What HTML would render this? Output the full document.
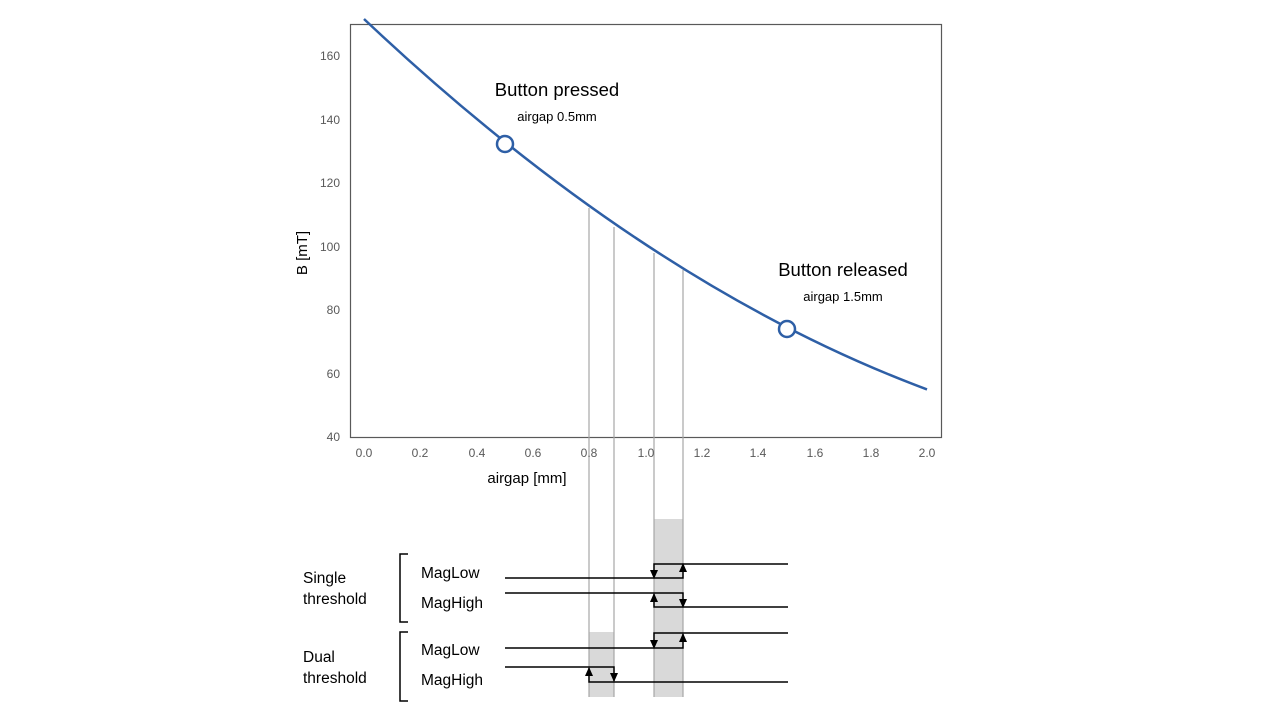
<!DOCTYPE html>
<html><head><meta charset="utf-8"><style>
html,body{margin:0;padding:0;background:#fff;}
svg{display:block;}
</style></head><body>
<svg width="1280" height="721" viewBox="0 0 1280 721" xmlns="http://www.w3.org/2000/svg">
<!-- gray bands -->
<rect x="654" y="519" width="29" height="178" fill="#d9d9d9"/>
<rect x="589" y="632" width="25" height="65" fill="#d9d9d9"/>
<!-- frame -->
<rect x="350.5" y="24.5" width="591" height="413" fill="none" stroke="#595959" stroke-width="1.2"/>
<!-- vertical guide lines -->
<g stroke="#a6a6a6" stroke-width="1.2">
<line x1="589" y1="208" x2="589" y2="697"/>
<line x1="614" y1="227" x2="614" y2="697"/>
<line x1="654" y1="253" x2="654" y2="697"/>
<line x1="683" y1="270" x2="683" y2="697"/>
</g>
<!-- y ticks -->
<g font-family="Liberation Sans, sans-serif" font-size="12" fill="#595959" text-anchor="end">
<text x="340" y="60">160</text><text x="340" y="124">140</text><text x="340" y="187">120</text>
<text x="340" y="251">100</text><text x="340" y="314">80</text><text x="340" y="378">60</text><text x="340" y="441">40</text>
</g>
<g font-family="Liberation Sans, sans-serif" font-size="12" fill="#595959" text-anchor="middle">
<text x="364" y="457">0.0</text><text x="420" y="457">0.2</text><text x="477" y="457">0.4</text><text x="533" y="457">0.6</text>
<text x="589" y="457">0.8</text><text x="646" y="457">1.0</text><text x="702" y="457">1.2</text><text x="758" y="457">1.4</text>
<text x="815" y="457">1.6</text><text x="871" y="457">1.8</text><text x="927" y="457">2.0</text>
</g>
<text x="527" y="483" font-family="Liberation Sans, sans-serif" font-size="15" fill="#000" text-anchor="middle">airgap [mm]</text>
<text transform="translate(307,253) rotate(-90)" font-family="Liberation Sans, sans-serif" font-size="15" fill="#000" text-anchor="middle">B [mT]</text>
<!-- curve -->
<path d="M364,19 Q645.5,284.6 927,389.4" fill="none" stroke="#2e5fa6" stroke-width="2.5"/>
<circle cx="505" cy="144" r="8" fill="#fff" stroke="#2e5fa6" stroke-width="2.5"/>
<circle cx="787" cy="329" r="8" fill="#fff" stroke="#2e5fa6" stroke-width="2.5"/>
<g font-family="Liberation Sans, sans-serif" fill="#000" text-anchor="middle">
<text x="557" y="96" font-size="18.5">Button pressed</text>
<text x="557" y="121" font-size="13">airgap 0.5mm</text>
<text x="843" y="276" font-size="18.5">Button released</text>
<text x="843" y="301" font-size="13">airgap 1.5mm</text>
</g>
<!-- labels -->
<g font-family="Liberation Sans, sans-serif" font-size="15.5" fill="#000">
<text x="303" y="583">Single</text><text x="303" y="604">threshold</text>
<text x="303" y="662">Dual</text><text x="303" y="683">threshold</text>
<text x="421" y="578">MagLow</text><text x="421" y="608">MagHigh</text>
<text x="421" y="655">MagLow</text><text x="421" y="685">MagHigh</text>
</g>
<g fill="none" stroke="#000" stroke-width="1.5">
<path d="M408,554 H400 V622 H408"/>
<path d="M408,632 H400 V701 H408"/>
<path d="M505,578 H683 V565"/><path d="M788,564 H654 V577"/>
<path d="M505,593 H683 V606"/><path d="M788,607 H654 V594"/>
<path d="M505,648 H683 V634"/><path d="M788,633 H654 V647"/>
<path d="M505,667 H614 V681"/><path d="M788,682 H589 V668"/>
</g>
<g fill="#000">
<path d="M650,570 h8 l-4,9 z"/><path d="M679,572 h8 l-4,-9 z"/>
<path d="M650,602 h8 l-4,-9 z"/><path d="M679,599 h8 l-4,9 z"/>
<path d="M650,640 h8 l-4,9 z"/><path d="M679,642 h8 l-4,-9 z"/>
<path d="M585,676 h8 l-4,-9 z"/><path d="M610,673 h8 l-4,9 z"/>
</g>
</svg>
</body></html>
